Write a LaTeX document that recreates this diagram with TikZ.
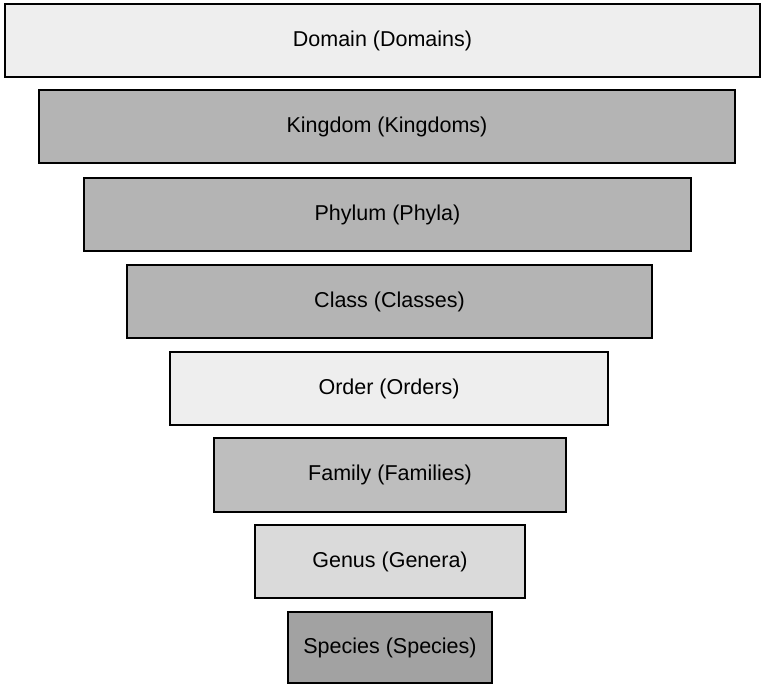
\documentclass[tikz,border=0pt]{standalone}
\usepackage{fontspec}
\setmainfont{Liberation Sans}
\definecolor{lightfill}{HTML}{EEEEEE}
\definecolor{midfill}{HTML}{B4B4B4}
\definecolor{famfill}{HTML}{BEBEBE}
\definecolor{genfill}{HTML}{DADADA}
\definecolor{darkfill}{HTML}{A2A2A2}
\tikzset{
  rankbox/.style={draw=black, line width=1.6pt, rectangle, inner sep=0pt,
    font=\fontsize{21.5}{24}\selectfont, text=black},
}
\begin{document}
\begin{tikzpicture}[x=1pt,y=-1pt]
\useasboundingbox (0,0) rectangle (762,685);
\node[rankbox, fill=lightfill, minimum width=755pt, minimum height=73pt] (domain) at (382.5,40.5) {Domain (Domains)};
\node[rankbox, fill=midfill, minimum width=696pt, minimum height=73pt] (kingdom) at (387,126.5) {Kingdom (Kingdoms)};
\node[rankbox, fill=midfill, minimum width=607pt, minimum height=73pt] (phylum) at (387.5,214.5) {Phylum (Phyla)};
\node[rankbox, fill=midfill, minimum width=525pt, minimum height=73pt] (class) at (389.5,301.5) {Class (Classes)};
\node[rankbox, fill=lightfill, minimum width=438pt, minimum height=73pt] (order) at (389,388.5) {Order (Orders)};
\node[rankbox, fill=famfill, minimum width=352pt, minimum height=74pt] (family) at (390,475) {Family (Families)};
\node[rankbox, fill=genfill, minimum width=270pt, minimum height=73pt] (genus) at (390,561.5) {Genus (Genera)};
\node[rankbox, fill=darkfill, minimum width=204pt, minimum height=71pt] (species) at (390,647.5) {Species (Species)};
\end{tikzpicture}
\end{document}
